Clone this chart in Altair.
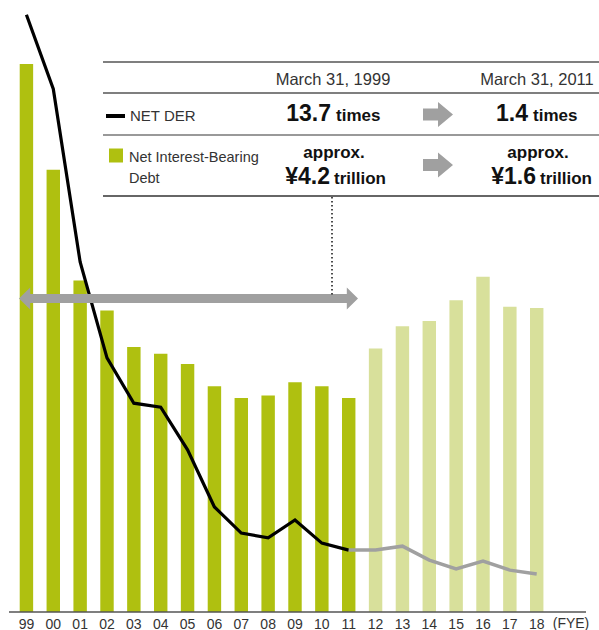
import altair as alt
import pandas as pd

# ---- data ----
years = ["99", "00", "01", "02", "03", "04", "05", "06", "07", "08",
         "09", "10", "11", "12", "13", "14", "15", "16", "17", "18"]
debt_trillion = [4.20, 3.39, 2.54, 2.31, 2.03, 1.98, 1.90, 1.73, 1.64, 1.66,
                 1.76, 1.73, 1.64, 2.02, 2.19, 2.23, 2.39, 2.57, 2.34, 2.33]
net_der = [13.7, 12.0, 8.03, 5.83, 4.79, 4.70, 3.72, 2.41, 1.81, 1.70,
           2.11, 1.58, 1.42, 1.42, 1.51, 1.19, 0.99, 1.17, 0.96, 0.87]
phase = ["to11"] * 13 + ["after11"] * 7
x_domain = years + ["(FYE)"]

df = pd.DataFrame({"year": years, "debt": debt_trillion, "der": net_der,
                   "phase": phase, "idx": list(range(len(years)))})

FONT = "Liberation Sans"
GREEN = "#afc010"
LIGHT_GREEN = "#d8e09b"
GRAY = "#a0a0a0"
PAD_L = 13

x_enc = alt.X("year:N", scale=alt.Scale(domain=x_domain, paddingInner=0.5,
                                        paddingOuter=0.25),
              sort=x_domain,
              axis=alt.Axis(title=None, labelAngle=0, ticks=False,
                            labelFontSize=14, labelColor="#333",
                            labelFont=FONT, labelPadding=5,
                            labelExpr="datum.value == '(FYE)' ? '' : datum.value",
                            domain=False, grid=False))

bars = alt.Chart(df).mark_bar().encode(
    x=x_enc,
    y=alt.Y("debt:Q", scale=alt.Scale(domain=[0, 4.69], nice=False), axis=None),
    color=alt.Color("phase:N", scale=alt.Scale(domain=["to11", "after11"],
                                               range=[GREEN, LIGHT_GREEN]),
                    legend=None),
)

y_line = alt.Y("der:Q", scale=alt.Scale(domain=[0, 14.04], nice=False), axis=None)
line_black = alt.Chart(df).transform_filter("datum.idx <= 12").mark_line(
    color="black", strokeWidth=3.2).encode(x=alt.X("year:N", sort=x_domain), y=y_line)
line_gray = alt.Chart(df).transform_filter("datum.idx >= 12").mark_line(
    color=GRAY, strokeWidth=3.5).encode(x=alt.X("year:N", sort=x_domain), y=y_line)

dummy = pd.DataFrame({"a": [0]})


def X(px):
    return px - PAD_L


def txt(text, x, y, size, weight="normal", align="center", color="#222"):
    return alt.Chart(dummy).mark_text(
        text=text, font=FONT, fontSize=size, fontWeight=weight, align=align,
        baseline="alphabetic", color=color
    ).encode(x=alt.value(X(x)), y=alt.value(y))


def hline(y, color, width=1.5):
    return alt.Chart(dummy).mark_rule(color=color, strokeWidth=width).encode(
        x=alt.value(X(103)), x2=alt.value(X(599)), y=alt.value(y))


annotations = [
    # baseline of the chart (extends a little beyond the bars, as in the reference)
    alt.Chart(dummy).mark_rule(color="#555", strokeWidth=1.5).encode(
        x=alt.value(X(9)), x2=alt.value(X(586)), y=alt.value(612)),
    txt("(FYE)", 571, 628, 14, color="#333"),
    hline(62, "#555"), hline(93, "#555"), hline(135, "#777"), hline(196, "#333"),
    txt("March 31, 1999", 333, 85, 16.5, color="#333"),
    txt("March 31, 2011", 537, 85, 16.5, color="#333"),
    alt.Chart(dummy).mark_rule(color="black", strokeWidth=4).encode(
        x=alt.value(X(106)), x2=alt.value(X(125)), y=alt.value(116)),
    txt("NET DER", 130, 121, 15, align="left", color="#333"),
    txt("13.7", 331, 121, 23, "bold", "right", "#111"),
    txt("times", 336, 121, 17, "bold", "left", "#111"),
    txt("1.4", 528, 121, 23, "bold", "right", "#111"),
    txt("times", 533, 121, 17, "bold", "left", "#111"),
    alt.Chart(dummy).mark_square(color=GREEN, size=196, opacity=1).encode(
        x=alt.value(X(116)), y=alt.value(155.5)),
    txt("Net Interest-Bearing", 129, 162, 14.5, align="left", color="#333"),
    txt("Debt", 129, 183, 14.5, align="left", color="#333"),
    txt("approx.", 334, 158, 17, "bold", "center", "#111"),
    txt("¥4.2", 330, 184, 23, "bold", "right", "#111"),
    txt("trillion", 334, 184, 17, "bold", "left", "#111"),
    txt("approx.", 538, 158, 17, "bold", "center", "#111"),
    txt("¥1.6", 536, 184, 23, "bold", "right", "#111"),
    txt("trillion", 540, 184, 17, "bold", "left", "#111"),
]

block_arrow = "M-1,-0.4 L0,-0.4 L0,-0.83 L1,0 L0,0.83 L0,0.4 L-1,0.4 Z"
for cy in (114.5, 165):
    annotations.append(
        alt.Chart(dummy).mark_point(shape=block_arrow, filled=True, fill=GRAY,
                                    strokeWidth=0, size=900, opacity=1).encode(
            x=alt.value(X(438)), y=alt.value(cy)))

# dotted connector
annotations.append(
    alt.Chart(dummy).mark_rule(color="#111", strokeWidth=1.5, strokeDash=[1.5, 2.5]).encode(
        x=alt.value(X(332)), y=alt.value(197), y2=alt.value(295)))

# long double-headed arrow (FY99 -> FY11)
dbl = ("M-1,0 L-0.934,-0.065 L-0.934,-0.027 L0.934,-0.027 L0.934,-0.065 L1,0 "
       "L0.934,0.065 L0.934,0.027 L-0.934,0.027 L-0.934,0.065 Z")
arrow_big = alt.Chart(dummy).mark_point(shape=dbl, filled=True, fill=GRAY,
                                        strokeWidth=0, size=339 ** 2, opacity=1).encode(
    x=alt.value(X(188.5)), y=alt.value(298.5))

chart = alt.layer(
    bars, line_black, line_gray, arrow_big, *annotations
).resolve_scale(y="independent").properties(
    width=564, height=612,
    autosize=alt.AutoSizeParams(type="none"),
    padding={"left": PAD_L, "top": 0, "right": 22, "bottom": 18},
    background="white",
).configure_view(stroke=None)

chart.save("out.html", embed_options={"renderer": "svg", "actions": False})
